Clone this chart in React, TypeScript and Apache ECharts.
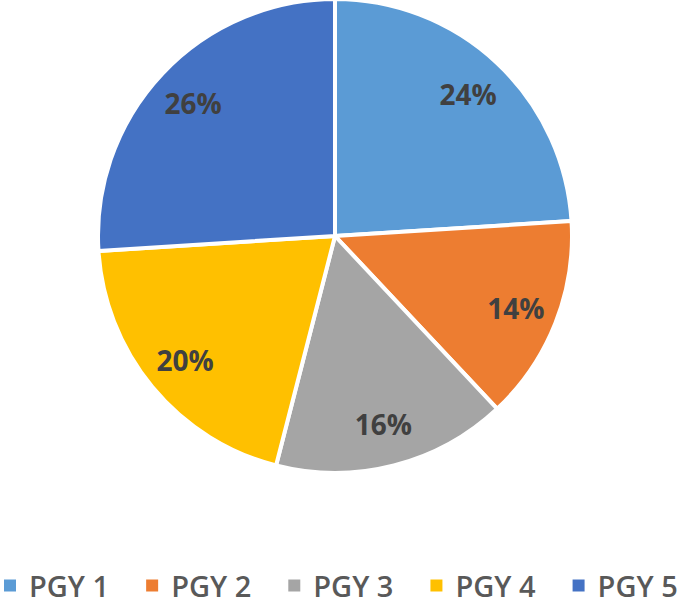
import React, { useEffect, useRef } from "react";
import * as echarts from "echarts";

const categories = ["PGY 1", "PGY 2", "PGY 3", "PGY 4", "PGY 5"];
const values = [24, 14, 16, 20, 26];
const colors = ["#5b9bd5", "#ed7d31", "#a5a5a5", "#ffc000", "#4472c4"];

export default function App() {
  const ref = useRef<HTMLDivElement>(null);
  useEffect(() => {
    document.body.style.margin = "0";
    const chart = echarts.init(ref.current!, null, { renderer: "svg" });
    const data = categories.map((name, i) => ({
      name,
      value: values[i],
      itemStyle: { color: colors[i] },
    }));
    chart.setOption({
      animation: false,
      backgroundColor: "#ffffff",
      legend: {
        data: categories,
        left: 2,
        top: 571,
        width: 683,
        padding: 0,
        icon: "rect",
        itemWidth: 14,
        itemHeight: 14,
        itemGap: 35,
        textStyle: {
          fontFamily: "Open Sans",
          fontWeight: 600,
          fontSize: 29,
          color: "#595959",
          lineHeight: 29,
          padding: [0, 0, 0, 7],
        },
      },
      series: [
        {
          type: "pie",
          center: [335, 236],
          radius: [0, 237],
          startAngle: 90,
          clockwise: true,
          label: { show: false },
          labelLine: { show: false },
          itemStyle: { borderColor: "#ffffff", borderWidth: 4 },
          emphasis: { disabled: true },
          data,
        },
        {
          type: "pie",
          center: [335, 236],
          radius: [146, 237],
          startAngle: 90,
          clockwise: true,
          silent: true,
          legendHoverLink: false,
          itemStyle: { color: "rgba(0,0,0,0)", borderWidth: 0 },
          label: {
            show: true,
            position: "inside",
            formatter: "{c}%",
            fontFamily: "Open Sans",
            fontWeight: "bold",
            fontSize: 28,
            color: "#404040",
          },
          labelLine: { show: false },
          emphasis: { disabled: true },
          data: categories.map((name, i) => ({ name: name + " ", value: values[i] })),
        },
      ],
    });
    return () => chart.dispose();
  }, []);
  return (
    <div
      ref={ref}
      style={{ position: "absolute", left: 0, top: 0, width: 685, height: 606 }}
    />
  );
}
